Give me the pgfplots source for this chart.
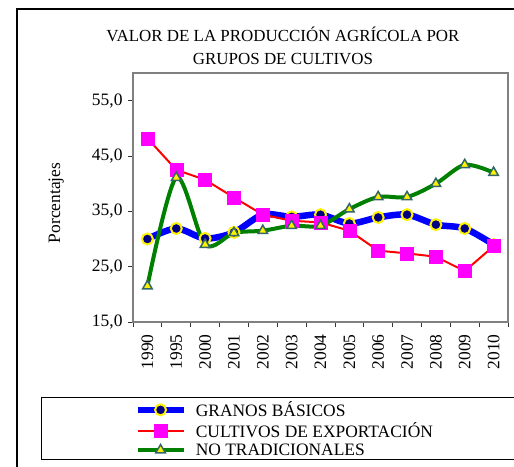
\documentclass[border=0pt]{standalone}
\usepackage{pgfplots}
\pgfplotsset{compat=1.18}
\usepackage{fontspec}
\setmainfont{Liberation Serif}
\definecolor{navyb}{RGB}{0,0,128}
\definecolor{bluel}{RGB}{0,0,255}
\definecolor{magen}{RGB}{255,0,255}
\definecolor{greenl}{RGB}{0,128,0}
\definecolor{slateg}{RGB}{51,102,102}
\definecolor{framegray}{RGB}{128,128,128}
\newcommand{\fs}{\fontsize{17.5}{19}\selectfont}
\newcommand{\ft}{\fontsize{17.5}{19}\selectfont}
\begin{document}
\begin{tikzpicture}
\path[use as bounding box, clip] (0,0) rectangle (514bp,-467bp);
\draw[black, line width=1.3bp] (17bp,-600bp) -- (17bp,-9bp) -- (700bp,-9bp);
\draw[black, line width=0.8bp] (41bp,-397bp) rectangle (700bp,-459bp);
\begin{axis}[
  at={(133bp,-322bp)}, anchor=south west,
  scale only axis, width=375bp, height=249bp,
  xmin=-0.5, xmax=12.5, ymin=15, ymax=60,
  xtick={0,...,12},
  xticklabels={1990,1995,2000,2001,2002,2003,2004,2005,2006,2007,2008,2009,2010},
  ytick={15,25,35,45,55},
  yticklabels={{15,0},{25,0},{35,0},{45,0},{55,0}},
  minor xtick={-0.5,0.5,...,12.5},
  minor ytick={15,25,35,45,55},
  major tick length=0pt, minor tick length=5bp,
  tick align=outside, xtick pos=left, ytick pos=left,
  tick style={draw=black!80, line width=0.8bp},
  axis line style={draw=framegray, line width=1.6bp},
  tick label style={font=\ft, text=black},
  xticklabel style={rotate=90, anchor=east},
  xticklabel shift=9bp,
  yticklabel shift=7bp,
  title={VALOR DE LA PRODUCCIÓN AGRÍCOLA POR\\GRUPOS DE CULTIVOS},
  title style={at={(axis description cs:0.4,1.086)}, anchor=center, align=center, font=\fontsize{17}{23}\selectfont},
  ylabel={Porcentajes},
  ylabel style={at={(axis description cs:-0.205,0.478)}, anchor=center, font=\fs},
  legend style={at={(axis description cs:-0.005,-0.303)}, anchor=north west, draw=none, fill=none, font=\fs, row sep=0.5bp,
    /tikz/every odd column/.append style={column sep=7bp}},
  legend cell align=left,
  legend image code/.code={\draw[mark repeat=2,mark phase=2] plot coordinates {(0bp,0bp) (23bp,0bp) (46bp,0bp)};},
]
\addplot[bluel, line width=6.5bp, smooth, tension=0.5, mark=*, mark size=5.5bp,
  mark options={fill=navyb, draw=yellow, line width=2bp}] coordinates {
  (0,30.0) (1,31.9) (2,30.1) (3,31.2) (4,34.4) (5,34.0) (6,34.4) (7,32.8) (8,33.9) (9,34.4) (10,32.6) (11,31.9) (12,29.0)};
\addlegendentry{GRANOS BÁSICOS}
\addplot[red, line width=2bp, mark=square*, mark size=6.5bp,
  mark options={fill=magen, draw=magen, line width=0.5bp}] coordinates {
  (0,48.2) (1,42.5) (2,40.7) (3,37.5) (4,34.4) (5,33.3) (6,33.0) (7,31.5) (8,27.9) (9,27.4) (10,26.8) (11,24.2) (12,28.7)};
\addlegendentry{CULTIVOS DE EXPORTACIÓN}
\addplot[greenl, line width=4bp, smooth, tension=0.5, mark=triangle*, mark size=5.5bp,
  mark options={fill=yellow, draw=slateg, line width=1.5bp}] coordinates {
  (0,21.5) (1,41.1) (2,29.0) (3,31.1) (4,31.5) (5,32.4) (6,32.4) (7,35.4) (8,37.6) (9,37.6) (10,40.0) (11,43.4) (12,42.0)};
\addlegendentry{NO TRADICIONALES}
\end{axis}
\end{tikzpicture}
\end{document}
